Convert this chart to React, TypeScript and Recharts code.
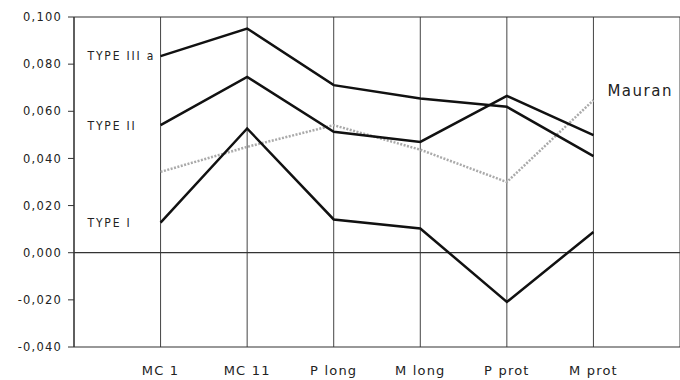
import React from "react";
import { LineChart, Line, XAxis, YAxis, CartesianGrid, ReferenceLine, LabelList } from "recharts";

const categories = ["MC 1", "MC 11", "P long", "M long", "P prot", "M prot"];
const typeIIIa = [0.0834, 0.0951, 0.0711, 0.0654, 0.0619, 0.041];
const typeII = [0.0541, 0.0746, 0.0513, 0.047, 0.0665, 0.0499];
const typeI = [0.0128, 0.0527, 0.0141, 0.0103, -0.0209, 0.0088];
const mauran = [0.0343, 0.0449, 0.0541, 0.0437, 0.030, 0.0647];
const yTicks = [-0.04, -0.02, 0, 0.02, 0.04, 0.06, 0.08, 0.1];

const data = categories.map((c, i) => ({
  x: i + 1,
  name: c,
  t3: typeIIIa[i],
  t2: typeII[i],
  t1: typeI[i],
  m: mauran[i],
}));

const FONT = "'DejaVu Sans', Verdana, sans-serif";
const NARROW = "'DejaVu Sans Condensed', 'Liberation Sans Narrow', 'DejaVu Sans', sans-serif";

const makeLabel = (
  text: string,
  idx: number,
  dx: number,
  dy: number,
  size: number,
  family: string,
  spacing: number
) => (props: any) => {
  if (props.index !== idx) return null;
  return (
    <text
      x={props.x + dx}
      y={props.y + dy}
      fontFamily={family}
      fontSize={size}
      letterSpacing={spacing}
      fill="#222"
      dominantBaseline="middle"
      textAnchor="start"
    >
      {text}
    </text>
  );
};

const fmt = (v: number) => v.toFixed(3).replace(".", ",");

export default function App() {
  return (
    <div style={{ position: "absolute", left: 0, top: 0, background: "#fff" }}>
      <LineChart width={680} height={380} data={data} margin={{ top: 17, right: 0, bottom: 0, left: 0 }}>
        <CartesianGrid horizontal={false} vertical={true} stroke="#444" strokeWidth={1} />
        <XAxis
          dataKey="x"
          type="number"
          domain={[0, 7]}
          ticks={[1, 2, 3, 4, 5, 6]}
          tickFormatter={(v: number) => categories[v - 1]}
          axisLine={false}
          tickLine={false}
          height={33}
          tick={{ fontFamily: FONT, fontSize: 13, fill: "#222", letterSpacing: 1.2 }}
          tickMargin={13}
        />
        <YAxis
          type="number"
          domain={[-0.04, 0.1]}
          ticks={yTicks}
          tickFormatter={fmt}
          width={74}
          axisLine={{ stroke: "#333", strokeWidth: 1.2 }}
          tickLine={{ stroke: "#333" }}
          tickSize={6}
          tick={{ fontFamily: FONT, fontSize: 11.5, fill: "#222", letterSpacing: 1.2 }}
          tickMargin={6}
        />
        <ReferenceLine y={0.1} stroke="#333" strokeWidth={1.2} />
        <ReferenceLine y={0} stroke="#333" strokeWidth={1.2} />
        <ReferenceLine y={-0.04} stroke="#333" strokeWidth={1.2} />
        <Line dataKey="m" stroke="#aaa" strokeWidth={2.5} strokeDasharray="2 1.5" dot={false} isAnimationActive={false}>
          <LabelList content={makeLabel("Mauran", 5, 14, -9, 15, FONT, 1.5)} />
        </Line>
        <Line dataKey="t3" stroke="#111" strokeWidth={2.5} dot={false} isAnimationActive={false}>
          <LabelList content={makeLabel("TYPE III a", 0, -73, 0, 12, NARROW, 1.8)} />
        </Line>
        <Line dataKey="t2" stroke="#111" strokeWidth={2.5} dot={false} isAnimationActive={false}>
          <LabelList content={makeLabel("TYPE II", 0, -73, 1, 12, NARROW, 1.8)} />
        </Line>
        <Line dataKey="t1" stroke="#111" strokeWidth={2.5} dot={false} isAnimationActive={false}>
          <LabelList content={makeLabel("TYPE I", 0, -73, 1, 12, NARROW, 1.8)} />
        </Line>
      </LineChart>
    </div>
  );
}
